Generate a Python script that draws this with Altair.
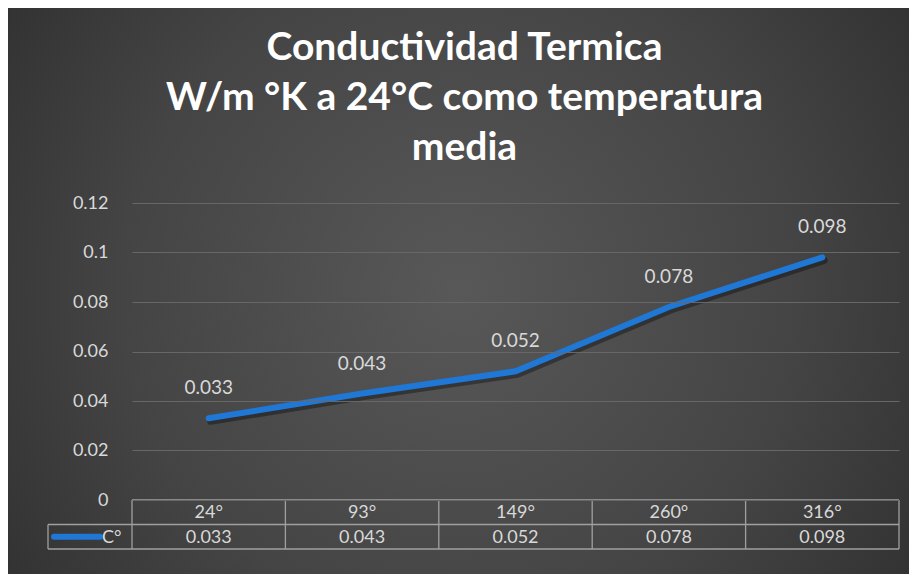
import altair as alt
import pandas as pd

categories = ["24°", "93°", "149°", "260°", "316°"]
values = [0.033, 0.043, 0.052, 0.078, 0.098]
series_name = "C°"
title_lines = ["Conductividad Termica", "W/m °K a 24°C como temperatura", "media"]
y_ticks = [0, 0.02, 0.04, 0.06, 0.08, 0.1, 0.12]

df = pd.DataFrame({"cat": categories, "val": values, "label": [str(v) for v in values]})

W, H = 767, 297
PL, PT = 124, 195
TOTAL_W, TOTAL_H = 901, 566
PR = TOTAL_W - PL - W
PB = TOTAL_H - PT - H
STEP = W / len(categories)
ROW = 24.5
LEG_X = -84

FONT = "Lato"
TXT = "#d9d9d9"
LINE_C = "#1f77d6"
TABLE_C = "#a0a0a0"

yscale = alt.Scale(domain=[0, 0.12], nice=False)
x_enc = alt.X("cat:N", sort=categories, axis=None,
              scale=alt.Scale(type="point", padding=0.5))
y_enc = alt.Y("val:Q", scale=yscale,
              axis=alt.Axis(values=y_ticks, format=".2~f", title=None, domain=False,
                            ticks=False, labelPadding=24, labelFontSize=18,
                            labelColor=TXT, labelFont=FONT, gridColor="#676767",
                            gridWidth=1.2, zindex=1))

one = alt.Data(values=[{}])

bg = alt.Chart(one).mark_rect(
    color=alt.Gradient(gradient="radial", x1=0.5, y1=0.5, x2=0.5, y2=0.5, r1=0, r2=0.75,
                       stops=[alt.GradientStop(color="#585858", offset=0),
                              alt.GradientStop(color="#444444", offset=0.5),
                              alt.GradientStop(color="#262626", offset=1)]),
    clip=False
).encode(x=alt.value(-PL), x2=alt.value(W + PR), y=alt.value(-PT), y2=alt.value(H + PB))

base = alt.Chart(df)

shadow = base.mark_line(color="#000000", opacity=0.35, strokeWidth=7, strokeCap="round",
                        yOffset=3, xOffset=2).encode(x=x_enc, y=alt.Y("val:Q", scale=yscale))
line = base.mark_line(color=LINE_C, strokeWidth=6, strokeCap="round").encode(x=x_enc, y=y_enc)

labels = base.mark_text(dy=-30, fontSize=19, font=FONT, color=TXT).encode(
    x=x_enc, y=alt.Y("val:Q", scale=yscale), text="label:N")

# data table
cat_text = base.mark_text(fontSize=18, font=FONT, color=TXT, baseline="middle").encode(
    x=x_enc, y=alt.value(H + ROW / 2 + 1), text="cat:N")
val_text = base.mark_text(fontSize=18, font=FONT, color=TXT, baseline="middle").encode(
    x=x_enc, y=alt.value(H + ROW * 1.5 + 1), text="label:N")

vlines = base.mark_rule(color=TABLE_C, strokeWidth=1.3, xOffset=-STEP / 2).encode(
    x=x_enc, y=alt.value(H), y2=alt.value(H + 2 * ROW))
vline_end = alt.Chart(one).mark_rule(color=TABLE_C, strokeWidth=1.3).encode(
    x=alt.value(W), y=alt.value(H), y2=alt.value(H + 2 * ROW))
vline_leg = alt.Chart(one).mark_rule(color=TABLE_C, strokeWidth=1.3).encode(
    x=alt.value(LEG_X), y=alt.value(H + ROW), y2=alt.value(H + 2 * ROW))
h0 = alt.Chart(one).mark_rule(color=TABLE_C, strokeWidth=1.3).encode(
    x=alt.value(0), x2=alt.value(W), y=alt.value(H))
h1 = alt.Chart(one).mark_rule(color=TABLE_C, strokeWidth=1.3).encode(
    x=alt.value(LEG_X), x2=alt.value(W), y=alt.value(H + ROW))
h2 = alt.Chart(one).mark_rule(color=TABLE_C, strokeWidth=1.3).encode(
    x=alt.value(LEG_X), x2=alt.value(W), y=alt.value(H + 2 * ROW))

leg_df = pd.DataFrame({"name": [series_name]})
swatch = alt.Chart(leg_df).mark_rule(color=LINE_C, strokeWidth=6, strokeCap="round").encode(
    x=alt.value(-78), x2=alt.value(-32), y=alt.value(H + ROW * 1.5))
leg_text = alt.Chart(leg_df).mark_text(fontSize=18, font=FONT, color=TXT, align="left",
                                       baseline="middle").encode(
    x=alt.value(-30), y=alt.value(H + ROW * 1.5 + 1), text="name:N")

chart = alt.layer(
    bg, shadow, line, labels, vlines, vline_end, vline_leg, h0, h1, h2,
    cat_text, val_text, swatch, leg_text
).properties(
    width=W, height=H,
    autosize=alt.AutoSizeParams(type="none"),
    padding={"left": PL, "top": PT, "right": PR, "bottom": PB},
    background="#333333",
    title=alt.TitleParams(text=title_lines, fontSize=39, font=FONT, fontWeight="bold",
                          color="#ffffff", anchor="middle", lineHeight=50, dx=-51,
                          offset=-160),
).configure_view(stroke=None)

chart.save("out.html", embed_options={"renderer": "svg", "actions": False})
